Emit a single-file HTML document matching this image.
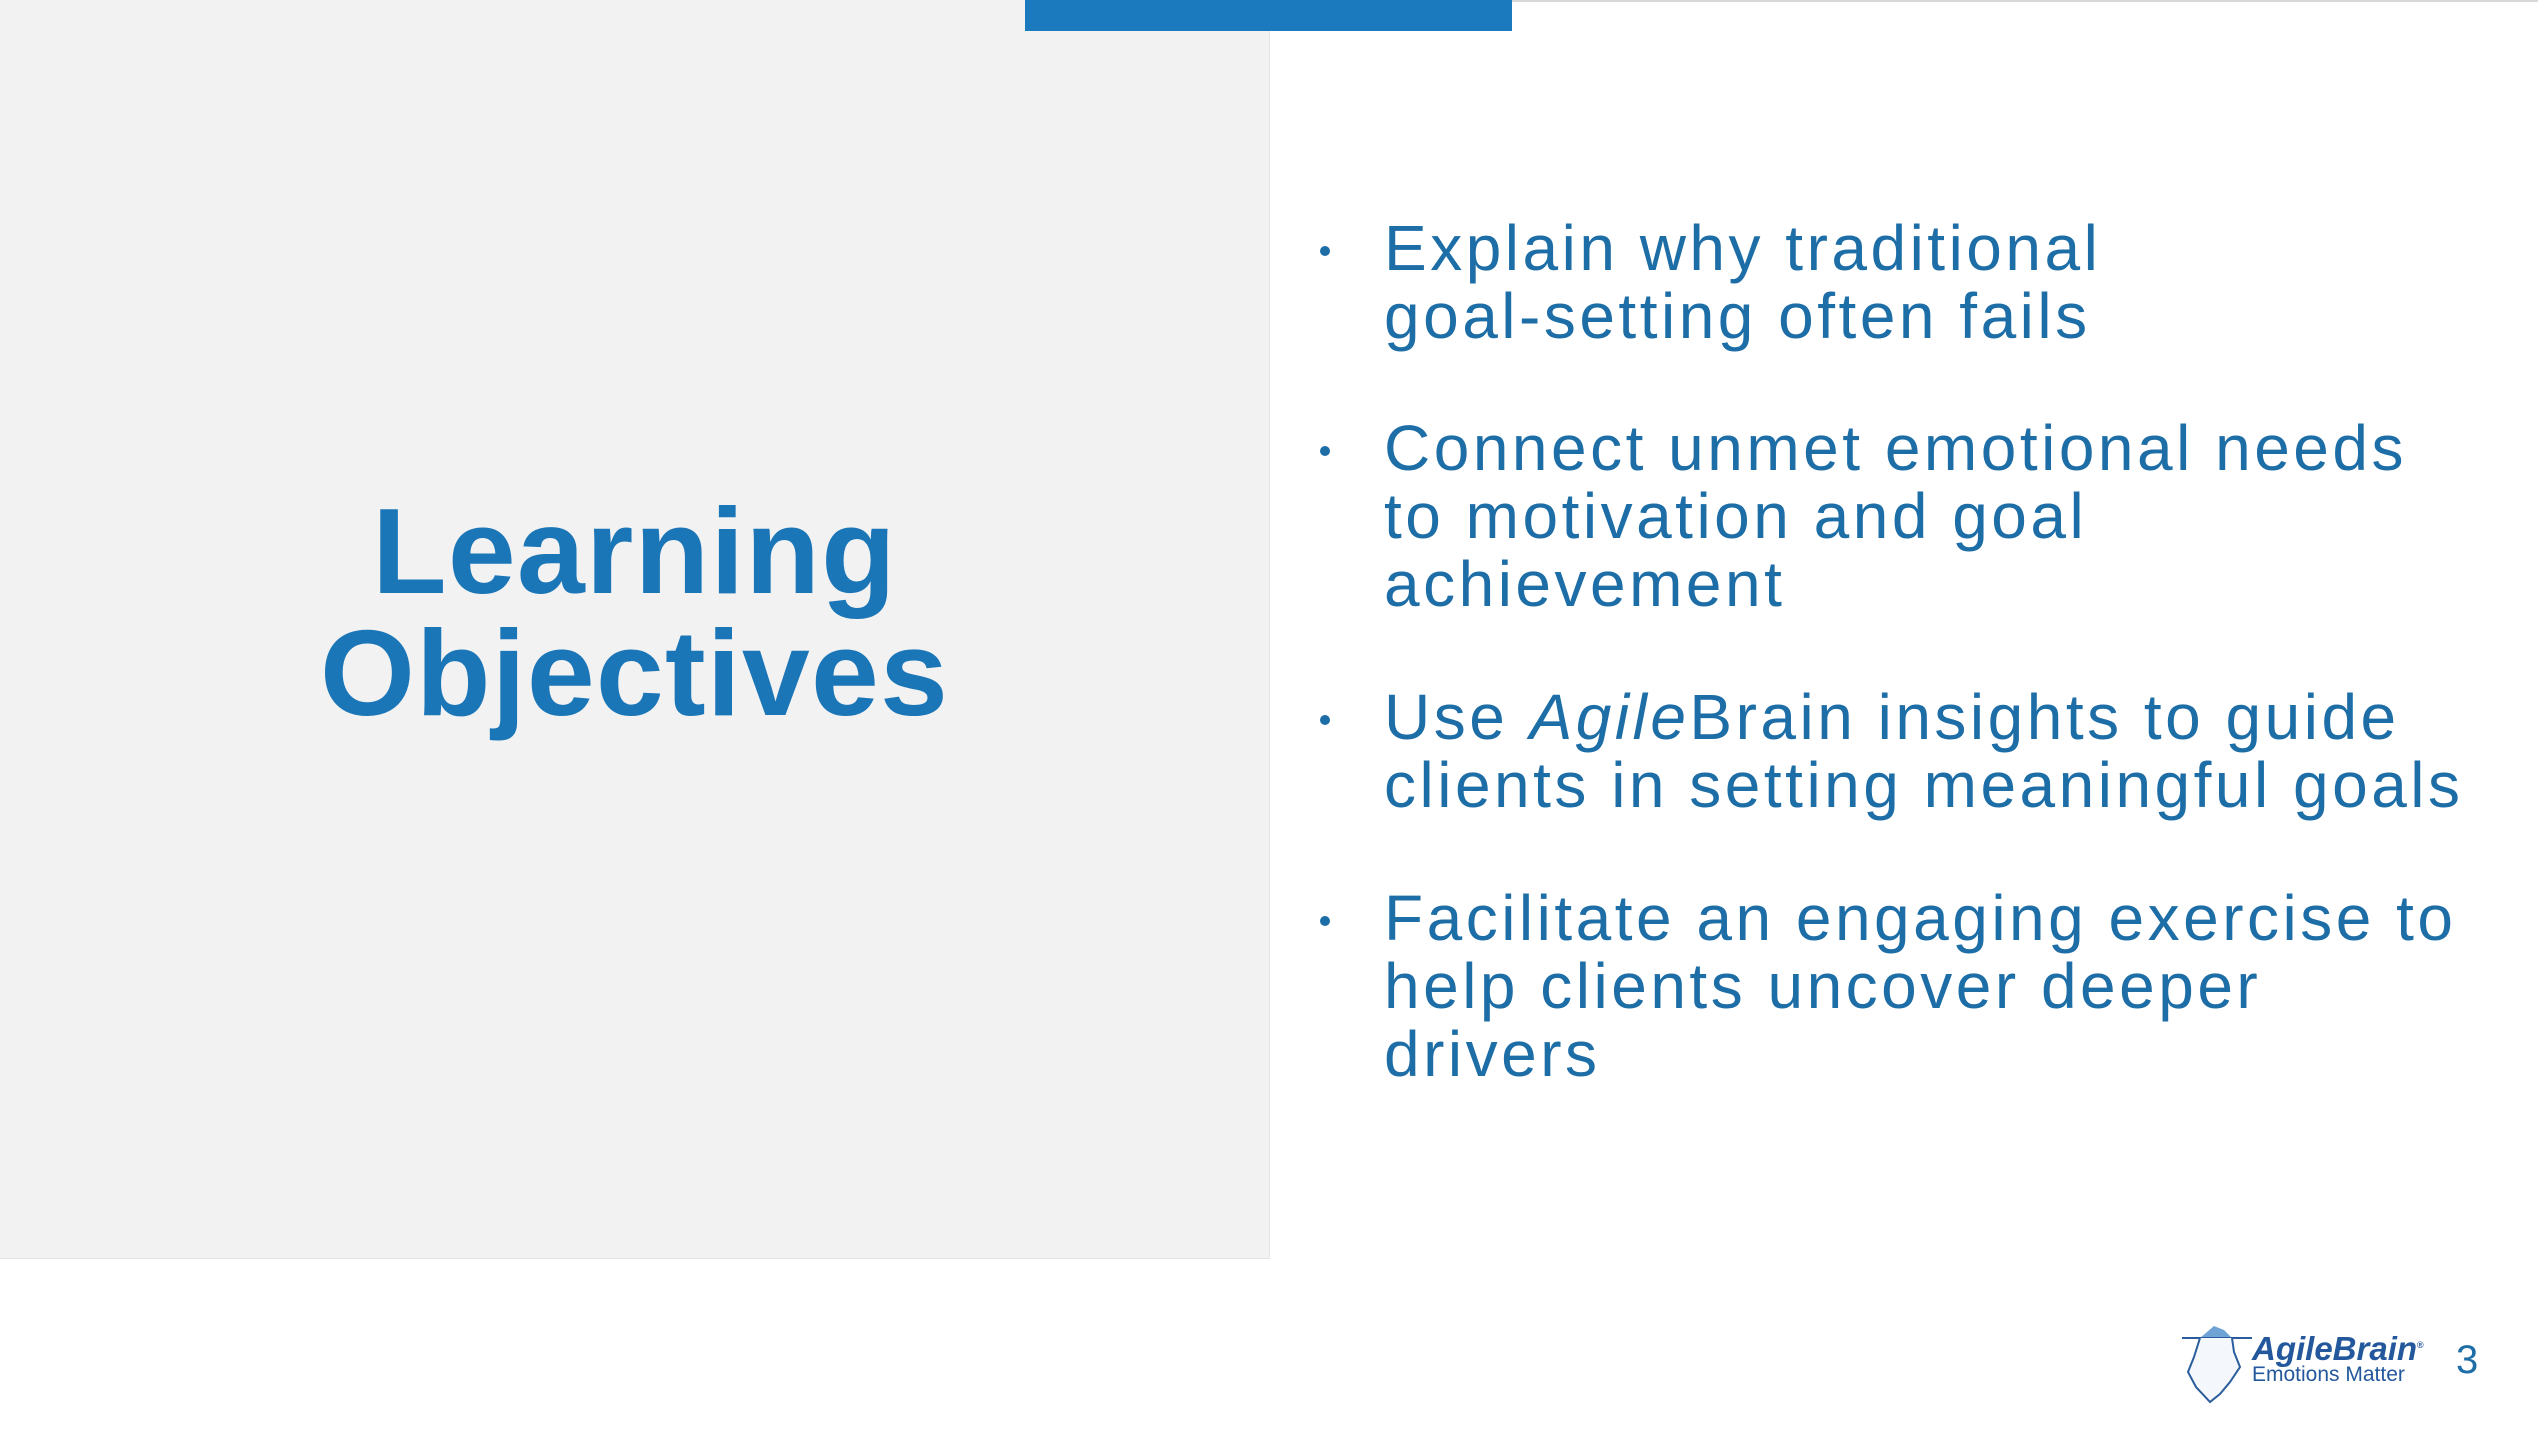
<!DOCTYPE html>
<html><head><meta charset="utf-8"><style>
html,body{margin:0;padding:0;width:2538px;height:1430px;overflow:hidden;background:#fff;font-family:"Liberation Sans",sans-serif;}
.abs{position:absolute;}
.topline{left:0;top:0;width:2538px;height:2px;background:#d8d8d8;}
.panel{left:0;top:0;width:1269px;height:1258px;background:#f2f2f2;border-right:1px solid #e4e4e4;border-bottom:1px solid #e4e4e4;}
.bar{left:1025px;top:0;width:487px;height:31px;background:#1a7abd;}
.title{left:0;width:1269px;text-align:center;color:#1b76b8;font-weight:bold;font-size:122px;line-height:122px;top:490px;letter-spacing:1.2px;}
.b{left:1384px;color:#1d6da6;font-size:64px;line-height:68px;letter-spacing:3.5px;white-space:nowrap;}
.dot{left:1320px;width:10px;height:10px;border-radius:50%;background:#1d6da6;}
</style></head><body>
<div class="abs topline"></div>
<div class="abs panel"></div>
<div class="abs bar"></div>
<div class="abs title">Learning<br>Objectives</div>

<div class="abs dot" style="top:246px"></div>
<div class="abs b" style="top:214px">Explain why traditional<br>goal-setting often fails</div>
<div class="abs dot" style="top:446px"></div>
<div class="abs b" style="top:414px">Connect unmet emotional needs<br>to motivation and goal<br>achievement</div>
<div class="abs dot" style="top:715px"></div>
<div class="abs b" style="top:683px">Use <i>Agile</i>Brain insights to guide<br>clients in setting meaningful goals</div>
<div class="abs dot" style="top:916px"></div>
<div class="abs b" style="top:884px">Facilitate an engaging exercise to<br>help clients uncover deeper<br>drivers</div>

<svg class="abs" style="left:2180px;top:1312px" width="80" height="95" viewBox="0 0 80 95">
<path d="M34 14 L44 18 L52 26 L36 26 L20 26 Z" fill="#6fa3d6"/>
<line x1="2" y1="26" x2="72" y2="26" stroke="#2a5d9c" stroke-width="2"/>
<path d="M20 26 L14 45 L8 60 L16 75 L30 90 L40 82 L50 70 L60 55 L54 40 L52 26" fill="#f4f8fc" stroke="#2a5d9c" stroke-width="2"/>
</svg>
<div class="abs" style="left:2252px;top:1330px;color:#23589c;font-weight:bold;font-style:italic;font-size:33px;">AgileBrain<sup style="font-size:9px;font-style:normal">®</sup></div>
<div class="abs" style="left:2252px;top:1363px;color:#23589c;font-size:21px;">Emotions Matter</div>
<div class="abs" style="left:2456px;top:1338px;color:#1d6da6;font-size:40px;">3</div>
</body></html>
